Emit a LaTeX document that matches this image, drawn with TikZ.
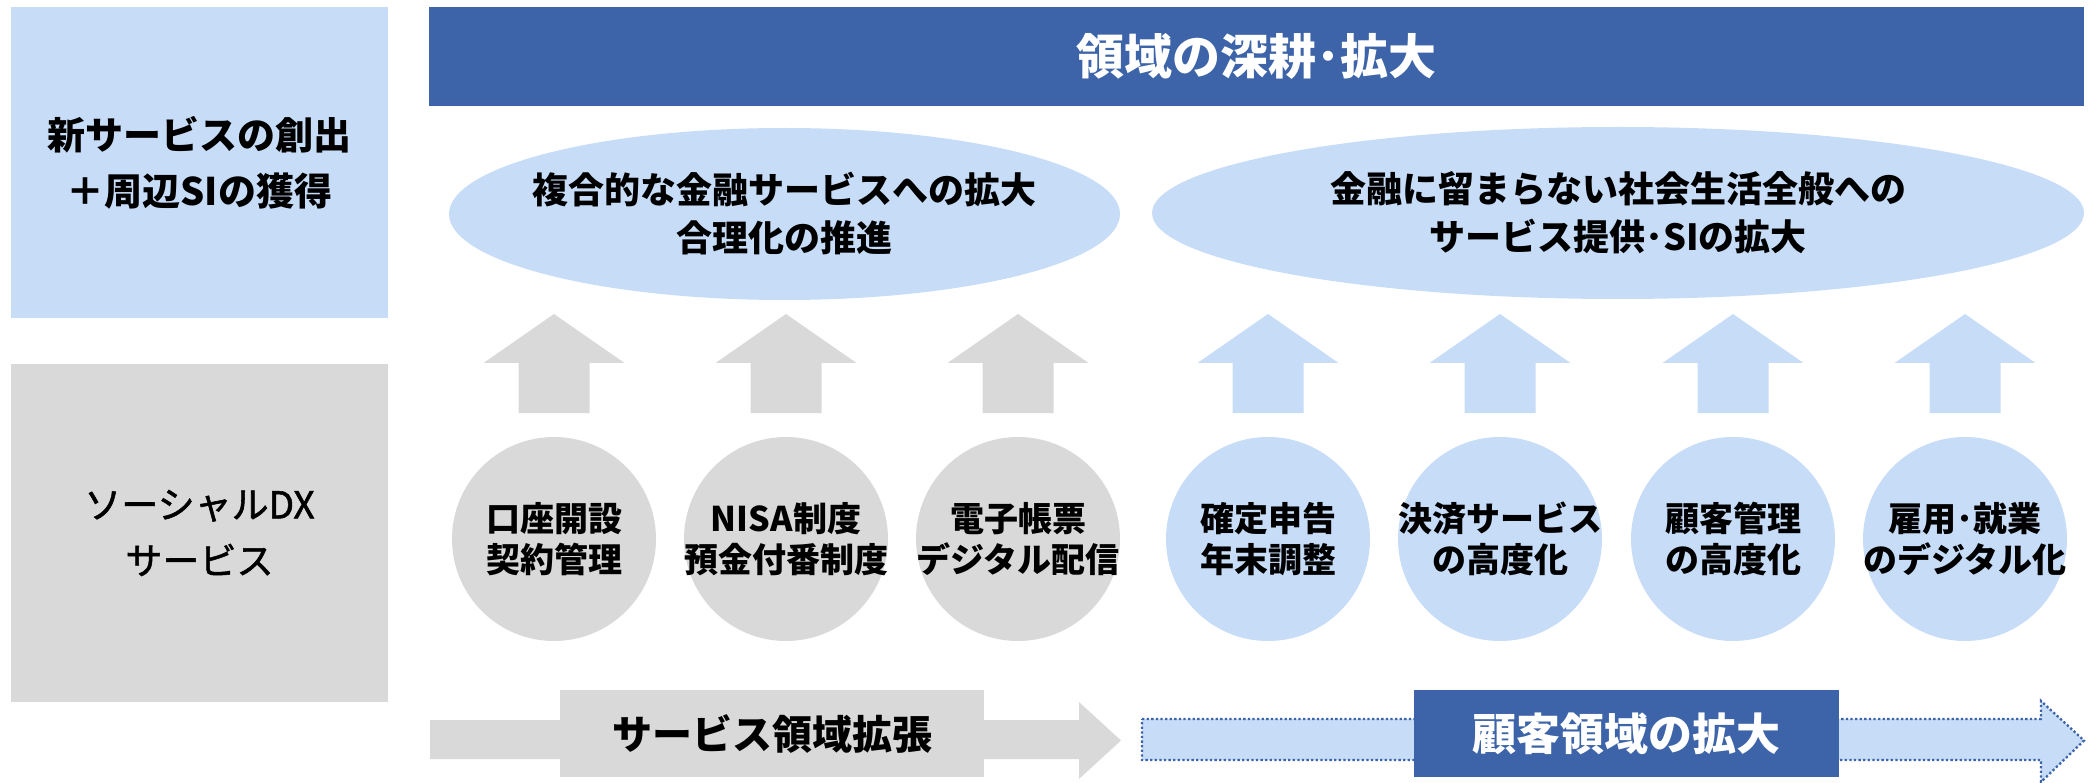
\documentclass[tikz,border=0pt]{standalone}
\usepackage{fontspec}
\setmainfont{Noto Sans CJK JP}
\newfontfamily\midfont[FakeBold=1.5]{Noto Sans CJK JP}
\usetikzlibrary{shapes,positioning}
\definecolor{bandblue}{HTML}{3D64A8}
\definecolor{paleblue}{HTML}{C6DCF7}
\definecolor{palegrey}{HTML}{D9D9D9}
\tikzset{
  sidebox/.style={rectangle, minimum width=377, minimum height=311, inner sep=0, align=center},
  goal/.style={ellipse, fill=paleblue, minimum height=172, inner sep=0},
  goaltext/.style={align=center, font=\bfseries\fontsize{36}{48}\selectfont},
  item/.style={circle, minimum size=204, inner sep=0},
  itemtext/.style={align=center, font=\bfseries\fontsize{34}{41}\selectfont},
  tagbox/.style={rectangle, minimum width=424, minimum height=87, inner sep=0, font=\bfseries}
}

\begin{document}
\begin{tikzpicture}[x=1pt,y=-1pt]
 \useasboundingbox (0,0) rectangle (2096,783);
 % left column
 \node[sidebox, fill=paleblue, font=\bfseries\fontsize{38}{56}\selectfont] (growth) at (199.5,162.5) {新サービスの創出\\＋周辺SIの獲得};
 \node[sidebox, fill=palegrey, minimum height=338, font=\midfont\fontsize{37}{56}\selectfont] (socialdx) at (199.5,533) {ソーシャルDX\\サービス};
 % banner
 \node[rectangle, fill=bandblue, text=white, minimum width=1655, minimum height=99, inner sep=0,
   font=\bfseries\fontsize{48}{52}\selectfont] (deepen) at (1256.5,56.5) {領域の深耕･拡大};
 % ellipses
 \node[goal, minimum width=671] (finsvc) at (784.5,214) {};
 \node[goaltext] (finsvc-t) at (finsvc) {複合的な金融サービスへの拡大\\合理化の推進};
 \node[goal, minimum width=932] (lifesvc) at (1618,213) {};
 \node[goaltext] (lifesvc-t) at (lifesvc) {金融に留まらない社会生活全般への\\サービス提供･SIの拡大};
 % up arrows
 \fill[palegrey] (554,314) -- ++(70.5,49) -- ++(-35,0) -- ++(0,50) -- ++(-71,0) -- ++(0,-50) -- ++(-35,0) -- cycle;
 \fill[palegrey] (786,314) -- ++(70.5,49) -- ++(-35,0) -- ++(0,50) -- ++(-71,0) -- ++(0,-50) -- ++(-35,0) -- cycle;
 \fill[palegrey] (1018,314) -- ++(70.5,49) -- ++(-35,0) -- ++(0,50) -- ++(-71,0) -- ++(0,-50) -- ++(-35,0) -- cycle;
 \fill[paleblue] (1268,314) -- ++(70.5,49) -- ++(-35,0) -- ++(0,50) -- ++(-71,0) -- ++(0,-50) -- ++(-35,0) -- cycle;
 \fill[paleblue] (1500,314) -- ++(70.5,49) -- ++(-35,0) -- ++(0,50) -- ++(-71,0) -- ++(0,-50) -- ++(-35,0) -- cycle;
 \fill[paleblue] (1733,314) -- ++(70.5,49) -- ++(-35,0) -- ++(0,50) -- ++(-71,0) -- ++(0,-50) -- ++(-35,0) -- cycle;
 \fill[paleblue] (1965,314) -- ++(70.5,49) -- ++(-35,0) -- ++(0,50) -- ++(-71,0) -- ++(0,-50) -- ++(-35,0) -- cycle;
 % circles
 \node[item, fill=palegrey] (acct) at (554,539) {};
 \node[itemtext] (acct-t) at (acct) {口座開設\\契約管理};
 \node[item, fill=palegrey] (nisa) at (786,539) {};
 \node[itemtext] (nisa-t) at (nisa) {NISA制度\\預金付番制度};
 \node[item, fill=palegrey] (ebill) at (1018,539) {};
 \node[itemtext] (ebill-t) at (ebill) {電子帳票\\デジタル配信};
 \node[item, fill=paleblue] (taxret) at (1268,539) {};
 \node[itemtext] (taxret-t) at (taxret) {確定申告\\年末調整};
 \node[item, fill=paleblue] (payment) at (1500,539) {};
 \node[itemtext] (payment-t) at (payment) {決済サービス\\の高度化};
 \node[item, fill=paleblue] (crm) at (1733,539) {};
 \node[itemtext] (crm-t) at (crm) {顧客管理\\の高度化};
 \node[item, fill=paleblue] (hrdx) at (1965,539) {};
 \node[itemtext] (hrdx-t) at (hrdx) {雇用･就業\\のデジタル化};
 % bottom arrows
 \fill[palegrey] (430,720) -- (1079,720) -- (1079,702) -- (1121,740.5) -- (1079,779) -- (1079,759) -- (430,759) -- cycle;
 \draw[bandblue, line width=2.3, dash pattern=on 2.3 off 2.3, fill=paleblue]
   (1142,719) -- (2041,719) -- (2041,701) -- (2084,740.5) -- (2041,782) -- (2041,760) -- (1142,760) -- cycle;
 \node[tagbox, fill=palegrey, font=\bfseries\fontsize{40}{44}\selectfont] (extend) at (772,733.5) {サービス領域拡張};
 \node[tagbox, fill=bandblue, text=white, minimum width=425, font=\bfseries\fontsize{44}{48}\selectfont] (reach) at (1626.5,733.5) {顧客領域の拡大};
\end{tikzpicture}
\end{document}
